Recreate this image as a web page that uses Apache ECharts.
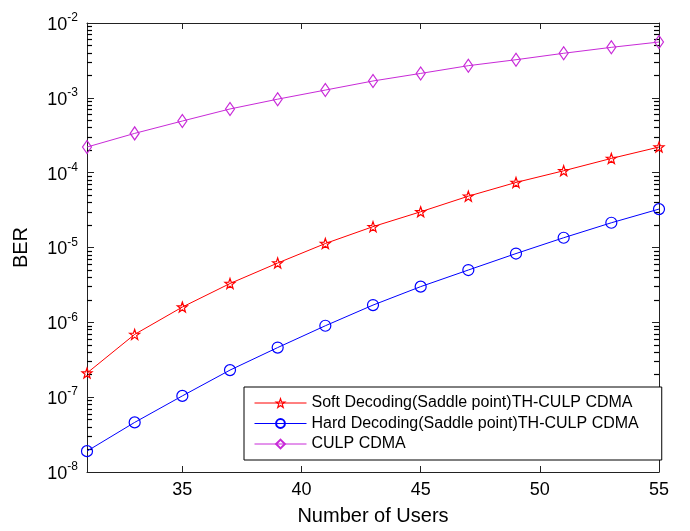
<!DOCTYPE html>
<html>
<head>
<meta charset="utf-8">
<script src="https://cdn.jsdelivr.net/npm/echarts@6/dist/echarts.min.js"></script>
<style>html,body{margin:0;padding:0;background:#fff}#c{width:690px;height:531px}</style>
</head>
<body>
<div id="c"></div>
<script>
var users = [31,33,35,37,39,41,43,45,47,49,51,53,55];
var softBER = [2.1e-7,6.9e-7,1.6e-6,3.3e-6,6.2e-6,1.13e-5,1.9e-5,3.0e-5,4.85e-5,7.4e-5,1.06e-4,1.55e-4,2.2e-4];
var hardBER = [1.9e-8,4.6e-8,1.04e-7,2.3e-7,4.6e-7,9.0e-7,1.7e-6,3.0e-6,5.0e-6,8.3e-6,1.35e-5,2.14e-5,3.26e-5];
var culpBER = [2.2e-4,3.35e-4,4.9e-4,7.1e-4,9.6e-4,1.27e-3,1.68e-3,2.12e-3,2.69e-3,3.23e-3,3.94e-3,4.73e-3,5.57e-3];
var seriesNames = ['Soft Decoding(Saddle point)TH-CULP CDMA','Hard Decoding(Saddle point)TH-CULP CDMA','CULP CDMA'];
var xTicks = [35,40,45,50,55];
var xTitle = 'Number of Users';
var yTitle = 'BER';

function pts(arr){ return users.map(function(u,i){ return [u, arr[i]]; }); }
var sp = '';
for (var i = 0; i < 10; i++) {
  var r = (i % 2 === 0) ? 10 : 4;
  var a = -Math.PI/2 + i*Math.PI/5;
  sp += (i === 0 ? 'M' : 'L') + (r*Math.cos(a)).toFixed(3) + ' ' + (r*Math.sin(a)).toFixed(3) + ' ';
}
sp += 'Z';
// minor log tick values for the log axes
var minorVals = [];
for (var e = -8; e < -2; e++) for (var k = 2; k <= 9; k++) minorVals.push(k * Math.pow(10, e));

var axisCol = '#222';
var font = 'Liberation Sans, Arial, sans-serif';
var chart = echarts.init(document.getElementById('c'));
var noFill = 'rgba(255,255,255,0)';
function lineSeries(name, data, color, symbol, size){
  return {
    name: name, type: 'line', data: pts(data), xAxisIndex: 0, yAxisIndex: 0,
    symbol: symbol, symbolSize: size, showSymbol: true,
    lineStyle: {color: color, width: 1},
    itemStyle: {color: noFill, borderColor: color, borderWidth: 1.2},
    emphasis: {disabled: true}, animation: false, z: 3
  };
}
function minorAxis(pos){
  return {
    type: 'log', logBase: 10, min: 1e-8, max: 1e-2, position: pos, offset: 0,
    axisLine: {show: false},
    axisTick: {show: true, inside: true, length: 5, customValues: minorVals, lineStyle: {color: '#000', width: 1.2}},
    axisLabel: {show: false}, splitLine: {show: false}
  };
}
chart.setOption({
  animation: false,
  backgroundColor: '#fff',
  grid: {left: 87, right: 31, top: 23, bottom: 59},
  xAxis: [{
    type: 'value', min: 31, max: 55, position: 'bottom',
    name: xTitle, nameLocation: 'middle', nameGap: 34,
    nameTextStyle: {fontFamily: font, fontSize: 20, color: '#000'},
    axisLine: {show: true, onZero: false, lineStyle: {color: axisCol, width: 1}},
    axisTick: {show: true, inside: true, length: 6, customValues: xTicks, lineStyle: {color: axisCol}},
    axisLabel: {customValues: xTicks, fontFamily: font, fontSize: 18, color: '#000', margin: 9},
    splitLine: {show: false}
  },{
    type: 'value', min: 31, max: 55, position: 'top',
    axisLine: {show: true, onZero: false, lineStyle: {color: axisCol, width: 1}},
    axisTick: {show: true, inside: true, length: 6, customValues: [35,40,45,50], lineStyle: {color: axisCol}},
    axisLabel: {show: false}, splitLine: {show: false}
  }],
  yAxis: [{
    type: 'log', logBase: 10, min: 1e-8, max: 1e-2, interval: 1, position: 'left',
    name: yTitle, nameLocation: 'middle', nameGap: 56, nameRotate: 90,
    nameTextStyle: {fontFamily: font, fontSize: 20, color: '#000'},
    axisLine: {show: true, onZero: false, lineStyle: {color: axisCol, width: 1}},
    axisTick: {show: true, inside: true, length: 7, lineStyle: {color: axisCol}},
    axisLabel: {
      margin: 9, fontFamily: font, color: '#000',
      formatter: function(v){ var e = Math.round(Math.log10(v)); return '{b|10}{s|' + e + '}'; },
      rich: {
        b: {fontSize: 18, fontFamily: font, color: '#000', verticalAlign: 'bottom'},
        s: {fontSize: 12, fontFamily: font, color: '#000', verticalAlign: 'bottom', padding: [0,0,10,0]}
      }
    },
    splitLine: {show: false}
  },{
    type: 'log', logBase: 10, min: 1e-8, max: 1e-2, interval: 1, position: 'right',
    axisLine: {show: true, onZero: false, lineStyle: {color: axisCol, width: 1}},
    axisTick: {show: true, inside: true, length: 7, lineStyle: {color: axisCol}},
    axisLabel: {show: false}, splitLine: {show: false}
  }, minorAxis('left'), minorAxis('right')],
  legend: {
    orient: 'vertical', left: 244, top: 387,
    data: [
      {name: seriesNames[0], itemStyle: {color: noFill, borderColor: '#ff0000', borderWidth: 1.2}},
      {name: seriesNames[1]},
      {name: seriesNames[2]}
    ],
    backgroundColor: '#fff', borderColor: '#000', borderWidth: 1,
    padding: [6, 23, 6, 10], itemWidth: 52, itemHeight: 11, itemGap: 0.5,
    lineStyle: {width: 1},
    textStyle: {fontFamily: font, fontSize: 16, color: '#000', lineHeight: 20},
    selectedMode: false
  },
  series: [
    lineSeries(seriesNames[0], softBER, '#ff0000', 'path://' + sp, 10),
    lineSeries(seriesNames[1], hardBER, '#0000ff', 'circle', 11),
    lineSeries(seriesNames[2], culpBER, '#c82ad8', 'diamond', [9, 13])
  ]
});
</script>
</body>
</html>
